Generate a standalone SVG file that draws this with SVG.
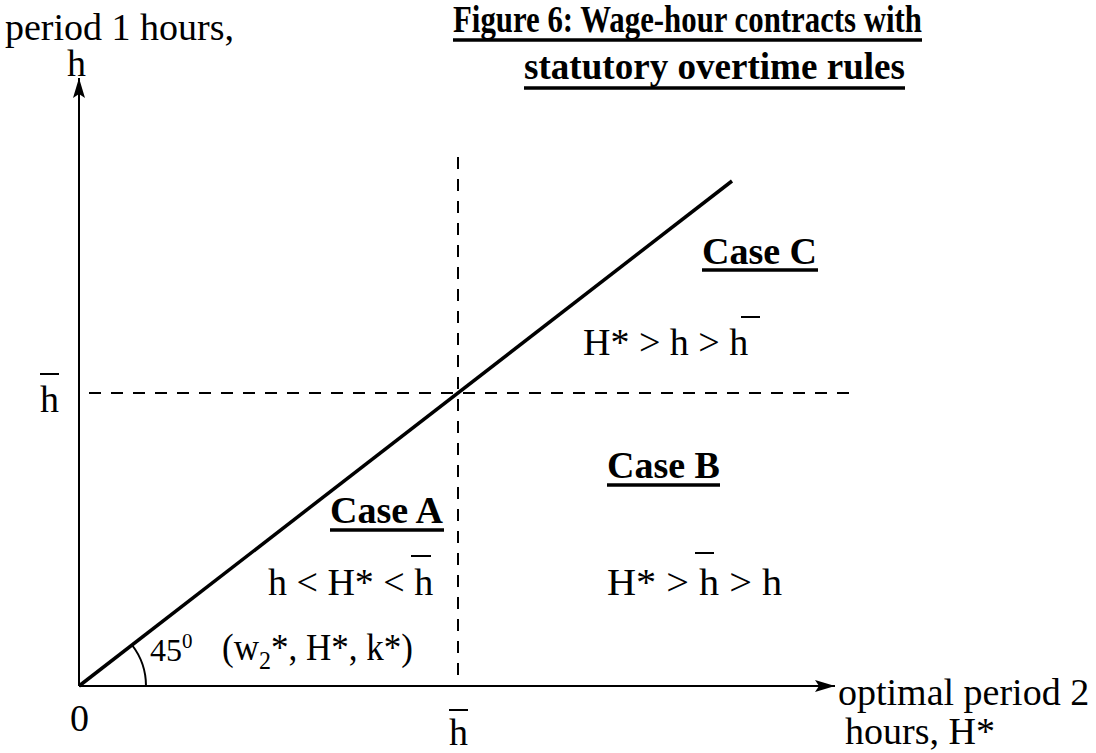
<svg xmlns="http://www.w3.org/2000/svg" width="1096" height="753" viewBox="0 0 1096 753">
<style>
text{font-family:"Liberation Serif","Times New Roman",serif;fill:#000}
.t{font-size:38px}
.b{font-size:38px;font-weight:bold}
.ti{font-size:38px;font-weight:bold}
.ax{stroke:#000;stroke-width:2;fill:none}
.dash{stroke:#000;stroke-width:2;stroke-dasharray:12 10;fill:none}
.ul{stroke:#000;stroke-width:3.5}
.bar{stroke:#000;stroke-width:2}
</style>
<defs>
<marker id="arr" viewBox="0 0 20 12" refX="20" refY="6" markerWidth="20" markerHeight="12" markerUnits="userSpaceOnUse" orient="auto">
<path d="M0,0 L20,6 L0,12 L4,6 z" fill="#000"/>
</marker>
</defs>
<rect width="1096" height="753" fill="#fff"/>
<g id="title">
<text class="ti" x="453" y="32" textLength="469" lengthAdjust="spacingAndGlyphs">Figure 6: Wage-hour contracts with</text>
<line class="ul" x1="453" y1="40" x2="922" y2="40"/>
<text class="ti" x="524" y="79" textLength="381" lengthAdjust="spacingAndGlyphs">statutory overtime rules</text>
<line class="ul" x1="524" y1="88" x2="905" y2="88"/>
</g>
<g id="connectors">
<line class="ax" x1="79" y1="686" x2="79" y2="78" marker-end="url(#arr)"/>
<line class="ax" x1="79" y1="686" x2="835" y2="686" marker-end="url(#arr)"/>
<line x1="79" y1="686" x2="732" y2="181" stroke="#000" stroke-width="3.5"/>
<line class="dash" x1="458" y1="157" x2="458" y2="686"/>
<line class="dash" x1="89" y1="393" x2="850" y2="393"/>
<path class="ax" d="M146,686 A67,67 0 0 0 132,645"/>
</g>
<g id="y-axis-label">
<text class="t" x="5" y="40">period 1 hours,</text>
<text class="t" x="67" y="76">h</text>
</g>
<g id="x-axis-label">
<text class="t" x="838" y="705">optimal period 2</text>
<text class="t" x="845" y="744">hours, H*</text>
</g>
<g id="origin"><text class="t" x="70" y="731">0</text></g>
<g id="hbar-x">
<text class="t" x="449" y="745">h</text>
<line class="bar" x1="449" y1="710" x2="468" y2="710"/>
</g>
<g id="hbar-y">
<text class="t" x="40" y="412">h</text>
<line class="bar" x1="40" y1="374" x2="59" y2="374"/>
</g>
<g id="angle"><text class="t" x="150" y="661" style="font-size:32px">45<tspan dy="-13" style="font-size:21px">0</tspan></text></g>
<g id="optimum"><text class="t" x="222" y="660" textLength="191" lengthAdjust="spacingAndGlyphs">(w<tspan dy="9" style="font-size:26px">2</tspan><tspan dy="-9">*, H*, k*)</tspan></text></g>
<g id="case-a">
<text class="b" x="330" y="523">Case A</text>
<line class="ul" x1="330" y1="530" x2="444" y2="530"/>
<text class="t" x="268" y="595">h &lt; H* &lt; h</text>
<line class="bar" x1="411" y1="556" x2="431" y2="556"/>
</g>
<g id="case-b">
<text class="b" x="607" y="478">Case B</text>
<line class="ul" x1="607" y1="485" x2="720" y2="485"/>
<text class="t" x="607" y="595" textLength="175" lengthAdjust="spacingAndGlyphs">H* &gt; h &gt; h</text>
<line class="bar" x1="695" y1="553" x2="714" y2="553"/>
</g>
<g id="case-c">
<text class="b" x="702" y="264">Case C</text>
<line class="ul" x1="702" y1="270" x2="818" y2="270"/>
<text class="t" x="583" y="355">H* &gt; h &gt; h</text>
<line class="bar" x1="741" y1="317" x2="760" y2="317"/>
</g>
</svg>
